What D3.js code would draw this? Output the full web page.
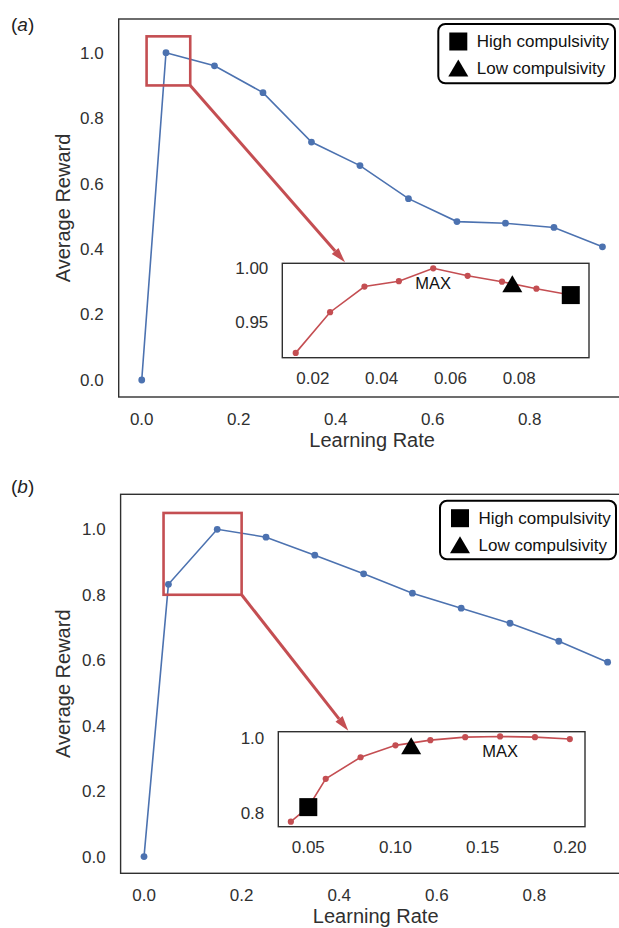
<!DOCTYPE html>
<html>
<head>
<meta charset="utf-8">
<script src="https://cdn.jsdelivr.net/npm/d3@7"></script>
<style>
  body { margin: 0; background: #fff; }
  svg { display: block; font-family: "Liberation Sans", Arial, sans-serif; }
</style>
</head>
<body>
<div id="chart"></div>
<script>
// ---- data ----
const lrMain = [0, 0.05, 0.15, 0.25, 0.35, 0.45, 0.55, 0.65, 0.75, 0.85, 0.95];
const rewardA = [0, 1.0, 0.96, 0.878, 0.727, 0.655, 0.554, 0.484, 0.479, 0.466, 0.407];
const rewardB = [0, 0.832, 1.0, 0.976, 0.921, 0.864, 0.805, 0.759, 0.713, 0.658, 0.594];

const lrInsetA = [0.015, 0.025, 0.035, 0.045, 0.055, 0.065, 0.075, 0.085, 0.095];
const rewardInsetA = [0.921, 0.959, 0.983, 0.988, 1.0, 0.993, 0.9875, 0.981, 0.975];
const lrInsetB = [0.04, 0.05, 0.06, 0.08, 0.10, 0.12, 0.14, 0.16, 0.18, 0.20];
const rewardInsetB = [0.776, 0.815, 0.891, 0.949, 0.981, 0.995, 1.003, 1.005, 1.003, 0.998];

// compulsivity markers [learning rate, reward]
const highA = [0.095, 0.975], lowA = [0.078, 0.9855];
const highB = [0.05, 0.815], lowB = [0.109, 0.98];

// zoomed region drawn as the red box [x0, x1, y0, y1]
const zoomA = [0.01, 0.1, 0.9, 1.05];
const zoomB = [0.04, 0.2, 0.8, 1.05];

const mainXTicks = [0, 0.2, 0.4, 0.6, 0.8];
const mainYTicks = [0, 0.2, 0.4, 0.6, 0.8, 1.0];
const insetAXTicks = [0.02, 0.04, 0.06, 0.08];
const insetAYTicks = [0.95, 1.00];
const insetBXTicks = [0.05, 0.10, 0.15, 0.20];
const insetBYTicks = [0.8, 1.0];

const legendLabels = ["High compulsivity", "Low compulsivity"];

const blue = "#4c72b0", red = "#c44e52", ink = "#303030";

const width = 619, height = 928;
const svg = d3.select("#chart").append("svg")
  .attr("width", width).attr("height", height);

const panels = [
  {
    tag: "a", x: lrMain, y: rewardA, ix: lrInsetA, iy: rewardInsetA,
    high: highA, low: lowA, zoom: zoomA,
    ixTicks: insetAXTicks, iyTicks: insetAYTicks, iyFmt: ".2f",
    xDomain: [-0.0475, 0.9975], yDomain: [-0.052, 1.103],
    frame: { left: 118.7, right: 625.5, top: 19, bottom: 397 },
    ixDomain: [0.0111, 0.1003], iyDomain: [0.9165, 1.0047],
    inset: { left: 282.3, right: 589, top: 263.3, bottom: 357.7 },
    arrowTipX: 345, tagY: 31,
    legend: { x: 438.3, y: 24, w: 176.7, h: 59.3 }
  },
  {
    tag: "b", x: lrMain, y: rewardB, ix: lrInsetB, iy: rewardInsetB,
    high: highB, low: lowB, zoom: zoomB,
    ixTicks: insetBXTicks, iyTicks: insetBYTicks, iyFmt: ".1f",
    xDomain: [-0.048, 0.9975], yDomain: [-0.051, 1.107],
    frame: { left: 120.6, right: 630.8, top: 494.3, bottom: 873.3 },
    ixDomain: [0.0328, 0.2087], iyDomain: [0.7624, 1.0177],
    inset: { left: 278.3, right: 585, top: 731.7, bottom: 826.7 },
    arrowTipX: 348.3, tagY: 493,
    legend: { x: 440, y: 500.7, w: 176, h: 58.6 }
  }
];

function squarePath(cx, cy, s) {
  return `M${cx - s / 2},${cy - s / 2}h${s}v${s}h${-s}Z`;
}
function trianglePath(cx, cy, w, h) {
  return `M${cx},${cy - h / 2}L${cx + w / 2},${cy + h / 2}L${cx - w / 2},${cy + h / 2}Z`;
}

panels.forEach(p => {
  const g = svg.append("g");
  const f = p.frame;

  const x = d3.scaleLinear().domain(p.xDomain).range([f.left, f.right]);
  const y = d3.scaleLinear().domain(p.yDomain).range([f.bottom, f.top]);

  // frame
  g.append("rect")
    .attr("x", f.left).attr("y", f.top)
    .attr("width", f.right - f.left).attr("height", f.bottom - f.top)
    .attr("fill", "none").attr("stroke", ink).attr("stroke-width", 1.4);

  // tick labels (no tick marks, seaborn white style)
  g.append("g").selectAll("text").data(mainYTicks).join("text")
    .attr("x", f.left - 15).attr("y", d => y(d)).attr("dy", "0.35em")
    .attr("text-anchor", "end").attr("font-size", 17).attr("fill", ink)
    .text(d3.format(".1f"));
  g.append("g").selectAll("text").data(mainXTicks).join("text")
    .attr("x", d => x(d)).attr("y", f.bottom + 27.5)
    .attr("text-anchor", "middle").attr("font-size", 17).attr("fill", ink)
    .text(d3.format(".1f"));

  // axis titles
  g.append("text")
    .attr("transform", `translate(63,${(f.top + f.bottom) / 2}) rotate(-90)`)
    .attr("dy", "0.35em").attr("text-anchor", "middle")
    .attr("font-size", 20).attr("fill", ink)
    .text("Average Reward");
  g.append("text")
    .attr("x", (f.left + f.right) / 2).attr("y", f.bottom + 49.5)
    .attr("text-anchor", "middle").attr("font-size", 20).attr("fill", ink)
    .text("Learning Rate");

  // panel tag
  const tag = g.append("text").attr("x", 11).attr("y", p.tagY)
    .attr("font-size", 19).attr("fill", "#222");
  tag.append("tspan").text("(");
  tag.append("tspan").attr("font-style", "italic").text(p.tag);
  tag.append("tspan").text(")");

  // main curve
  const pts = p.x.map((v, i) => [v, p.y[i]]);
  g.append("path").datum(pts)
    .attr("fill", "none").attr("stroke", blue).attr("stroke-width", 1.6)
    .attr("d", d3.line().x(d => x(d[0])).y(d => y(d[1])));
  g.append("g").selectAll("circle").data(pts).join("circle")
    .attr("cx", d => x(d[0])).attr("cy", d => y(d[1])).attr("r", 3.4)
    .attr("fill", blue);

  // zoom box + arrow
  const z = p.zoom;
  g.append("rect")
    .attr("x", x(z[0])).attr("y", y(z[3]))
    .attr("width", x(z[1]) - x(z[0])).attr("height", y(z[2]) - y(z[3]))
    .attr("fill", "none").attr("stroke", red).attr("stroke-width", 2.6);

  const inS = p.inset;
  const x0 = x(z[1]), y0 = y(z[2]), x1 = p.arrowTipX, y1 = inS.top - 1;
  const ang = Math.atan2(y1 - y0, x1 - x0);
  const headL = 15, headW = 4.5;
  const bx = x1 - headL * Math.cos(ang), by = y1 - headL * Math.sin(ang);
  g.append("line")
    .attr("x1", x0).attr("y1", y0).attr("x2", bx).attr("y2", by)
    .attr("stroke", red).attr("stroke-width", 3);
  g.append("path")
    .attr("d", `M${x1},${y1}L${bx - headW * Math.sin(ang)},${by + headW * Math.cos(ang)}` +
      `L${bx + headW * Math.sin(ang)},${by - headW * Math.cos(ang)}Z`)
    .attr("fill", red);

  // inset
  const ix = d3.scaleLinear().domain(p.ixDomain).range([inS.left, inS.right]);
  const iy = d3.scaleLinear().domain(p.iyDomain).range([inS.bottom, inS.top]);
  const ig = g.append("g");
  ig.append("rect")
    .attr("x", inS.left).attr("y", inS.top)
    .attr("width", inS.right - inS.left).attr("height", inS.bottom - inS.top)
    .attr("fill", "#fff").attr("stroke", ink).attr("stroke-width", 1.4);
  ig.append("g").selectAll("text").data(p.iyTicks).join("text")
    .attr("x", inS.left - 14).attr("y", d => iy(d)).attr("dy", "0.35em")
    .attr("text-anchor", "end").attr("font-size", 17).attr("fill", ink)
    .text(d3.format(p.iyFmt));
  ig.append("g").selectAll("text").data(p.ixTicks).join("text")
    .attr("x", d => ix(d)).attr("y", inS.bottom + 26.5)
    .attr("text-anchor", "middle").attr("font-size", 17).attr("fill", ink)
    .text(d3.format(".2f"));

  const ipts = p.ix.map((v, i) => [v, p.iy[i]]);
  ig.append("path").datum(ipts)
    .attr("fill", "none").attr("stroke", red).attr("stroke-width", 1.6)
    .attr("d", d3.line().x(d => ix(d[0])).y(d => iy(d[1])));
  ig.append("g").selectAll("circle").data(ipts).join("circle")
    .attr("cx", d => ix(d[0])).attr("cy", d => iy(d[1])).attr("r", 3.1)
    .attr("fill", red);

  const best = ipts[d3.maxIndex(ipts, d => d[1])];
  ig.append("text")
    .attr("x", ix(best[0])).attr("y", iy(best[1]) + 21)
    .attr("text-anchor", "middle").attr("font-size", 16.5).attr("fill", "#111")
    .text("MAX");

  ig.append("path").attr("d", squarePath(ix(p.high[0]), iy(p.high[1]), 18)).attr("fill", "#000");
  ig.append("path").attr("d", trianglePath(ix(p.low[0]), iy(p.low[1]), 20, 17)).attr("fill", "#000");

  // legend
  const L = p.legend;
  const lg = g.append("g");
  lg.append("rect")
    .attr("x", L.x).attr("y", L.y).attr("width", L.w).attr("height", L.h)
    .attr("rx", 7).attr("fill", "#fff").attr("stroke", "#000").attr("stroke-width", 2);
  lg.append("path").attr("d", squarePath(L.x + 20, L.y + 17.5, 18)).attr("fill", "#000");
  lg.append("path").attr("d", trianglePath(L.x + 20, L.y + 44, 20, 17)).attr("fill", "#000");
  lg.selectAll("text.lab").data(legendLabels).join("text")
    .attr("class", "lab")
    .attr("x", L.x + 38.5).attr("y", (d, i) => L.y + 17.5 + i * 26.5).attr("dy", "0.35em")
    .attr("font-size", 17).attr("fill", "#111")
    .text(d => d);
});
</script>
</body>
</html>
